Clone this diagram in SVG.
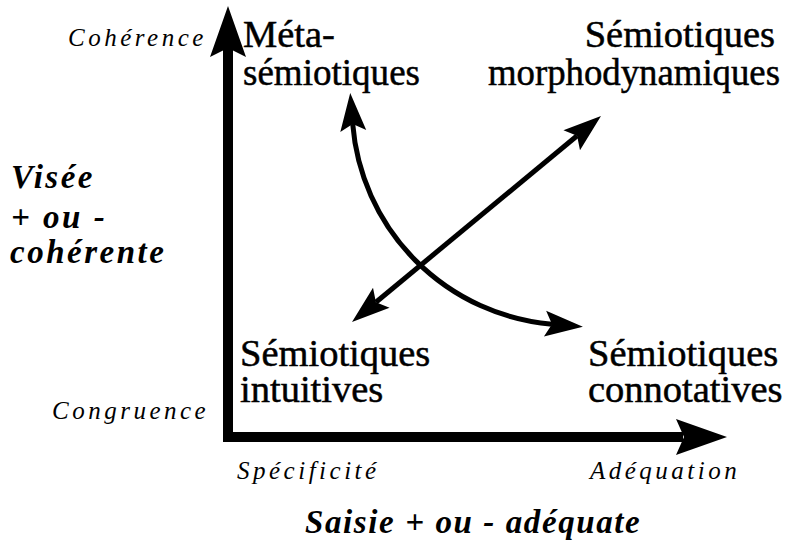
<svg xmlns="http://www.w3.org/2000/svg" width="798" height="546" viewBox="0 0 798 546">
<style>
.node{font-family:"Liberation Serif","Times New Roman",serif;font-size:38.5px;fill:#000;stroke:#000;stroke-width:0.5}
.pole{font-family:"Liberation Serif","Times New Roman",serif;font-style:italic;font-size:25px;letter-spacing:3.5px;fill:#000}
.axis-title{font-family:"Liberation Serif","Times New Roman",serif;font-style:italic;font-weight:bold;font-size:33px;fill:#000}
.conn{fill:none;stroke:#000;stroke-width:5}
</style>
<defs>
<marker id="ah" markerUnits="userSpaceOnUse" markerWidth="60" markerHeight="40" viewBox="-10 -20 60 40" refX="0" refY="0" orient="auto-start-reverse" overflow="visible">
<path d="M31,0 L-7,-13 L0,0 L-7,13 Z" fill="#000"/>
</marker>
</defs>
<rect width="798" height="546" fill="#fff"/>
<g id="axes">
<path d="M228,48 L228,437 L683,437" fill="none" stroke="#000" stroke-width="10" stroke-linejoin="miter"/>
<path d="M228,6 L246,57 L228,48 L210,57 Z" fill="#000"/>
<path d="M727,437 L676,419 L684,437 L676,455 Z" fill="#000"/>
</g>
<g id="connectors">
<path class="conn" d="M375.9,302.2 L577.1,135.8" marker-start="url(#ah)" marker-end="url(#ah)"/>
<path class="conn" d="M352.7,124 A218.5,218.5 0 0 0 552,324.2" marker-start="url(#ah)" marker-end="url(#ah)"/>
</g>
<g id="meta"><text class="node" x="243" y="47">Méta-</text><text class="node" x="243" y="85" textLength="177" lengthAdjust="spacingAndGlyphs">sémiotiques</text></g>
<g id="morpho"><text class="node" x="775" y="47" text-anchor="end">Sémiotiques</text><text class="node" x="488" y="85" textLength="292" lengthAdjust="spacingAndGlyphs">morphodynamiques</text></g>
<g id="intuitives"><text class="node" x="240" y="366">Sémiotiques</text><text class="node" x="240" y="402">intuitives</text></g>
<g id="connotatives"><text class="node" x="588" y="366">Sémiotiques</text><text class="node" x="588" y="402">connotatives</text></g>
<g id="coherence"><text class="pole" x="68" y="46">Cohérence</text></g>
<g id="congruence"><text class="pole" x="52" y="419">Congruence</text></g>
<g id="specificite"><text class="pole" x="237" y="479">Spécificité</text></g>
<g id="adequation"><text class="pole" x="590" y="479">Adéquation</text></g>
<g id="visee"><text class="axis-title" letter-spacing="2.5" x="11" y="188">Visée</text><text class="axis-title" letter-spacing="2.5" x="11" y="228">+ ou -</text><text class="axis-title" letter-spacing="2.5" x="10" y="263">cohérente</text></g>
<g id="saisie"><text class="axis-title" letter-spacing="1.6" x="305" y="533">Saisie + ou - adéquate</text></g>
</svg>
